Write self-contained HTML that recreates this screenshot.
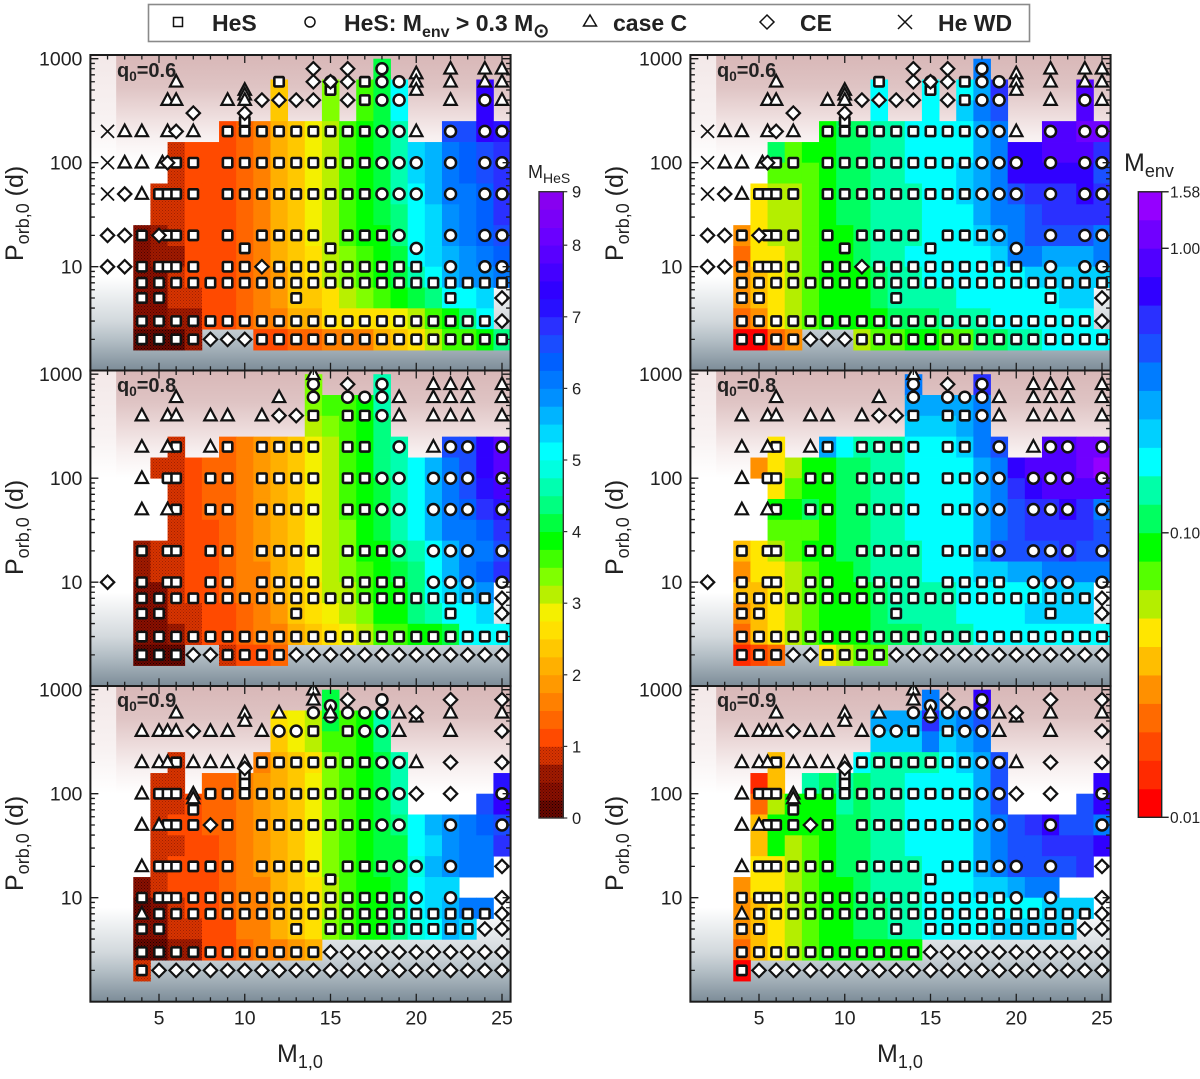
<!DOCTYPE html>
<html lang="en">
<head>
<meta charset="utf-8">
<title>HeS and Menv parameter grids</title>
<style>
html,body{margin:0;padding:0;background:#fff}
svg{display:block;font-family:"Liberation Sans",sans-serif}
.ax{font-size:25px;fill:#222}
.axs{font-size:18px}
.q{font-size:20px;font-weight:bold;fill:#222}
.qs{font-size:13.5px}
.lg{font-size:23px;font-weight:bold;fill:#222}
.lgs{font-size:16px}
.lgo{font-size:19px}
</style>
</head>
<body>
<svg id="chart" xmlns="http://www.w3.org/2000/svg" width="1200" height="1079" viewBox="0 0 1200 1079">
<defs>
<linearGradient id="pinkMain" x1="0" y1="0" x2="0" y2="1"><stop offset="0" stop-color="#d8b7b7"/><stop offset=".3" stop-color="#dfc4c4"/><stop offset=".55" stop-color="#eddcdc"/><stop offset=".75" stop-color="#f7efef"/><stop offset="1" stop-color="#ffffff"/></linearGradient>
<linearGradient id="pinkEdge" x1="0" y1="0" x2="0" y2="1"><stop offset="0" stop-color="#f3e8e8"/><stop offset=".6" stop-color="#f8f2f2"/><stop offset="1" stop-color="#ffffff"/></linearGradient>
<linearGradient id="grayFade" x1="0" y1="0" x2="0" y2="1"><stop offset="0" stop-color="#ffffff"/><stop offset=".47" stop-color="#d3d9dd"/><stop offset=".67" stop-color="#b4bfc6"/><stop offset="1" stop-color="#7c8c98"/></linearGradient>
<pattern id="dither0" width="3" height="3" patternUnits="userSpaceOnUse"><rect width="3" height="3" fill="#6a0800"/><rect width="1" height="1" fill="#1e0000"/><rect x="1.5" y="1.5" width="1" height="1" fill="#2e0000"/></pattern>
<pattern id="dither1" width="3" height="3" patternUnits="userSpaceOnUse"><rect width="3" height="3" fill="#8a1000"/><rect width="1" height="1" fill="#4a0200"/><rect x="1.5" y="1.5" width="1" height="1" fill="#520400"/></pattern>
<pattern id="dither2" width="3" height="3" patternUnits="userSpaceOnUse"><rect width="3" height="3" fill="#a01a00"/><rect width="1" height="1" fill="#6a0a00"/><rect x="1.5" y="1.5" width="1" height="1" fill="#741000"/></pattern>
<pattern id="dither3" width="3" height="3" patternUnits="userSpaceOnUse"><rect width="3" height="3" fill="#d83400"/><rect width="1" height="1" fill="#a02000"/><rect x="1.5" y="1.5" width="1" height="1" fill="#a82400"/></pattern>
</defs>
<g id="plots"></g>

<g>
<rect x="148.5" y="4.5" width="881" height="37" fill="#fff" stroke="#8a8a8a" stroke-width="1.6"/>
<rect x="173.5" y="17.5" width="9" height="9" fill="#fff" stroke="#111" stroke-width="1.5"/>
<text class="lg" x="212" y="31">HeS</text>
<circle cx="310" cy="22" r="5" fill="#fff" stroke="#111" stroke-width="1.5"/>
<text class="lg" x="344" y="31">HeS: M<tspan class="lgs" dy="6">env</tspan><tspan dy="-6"> &gt; 0.3 M</tspan><tspan class="lgo" dy="6">⊙</tspan></text>
<polygon points="590,15 596.5,26 583.5,26" fill="#fff" stroke="#111" stroke-width="1.5"/>
<text class="lg" x="613" y="31">case C</text>
<polygon points="767,15 774,22 767,29 760,22" fill="#fff" stroke="#111" stroke-width="1.5"/>
<text class="lg" x="800" y="31">CE</text>
<path d="M898,15L912,29M912,15L898,29" stroke="#111" stroke-width="1.5" fill="none"/>
<text class="lg" x="938" y="31">He WD</text>
</g>

<text class="ax" transform="translate(23,261) rotate(-90)">P<tspan class="axs" dy="6">orb,0</tspan><tspan dy="-6"> (d)</tspan></text>
<text class="ax" transform="translate(23,575) rotate(-90)">P<tspan class="axs" dy="6">orb,0</tspan><tspan dy="-6"> (d)</tspan></text>
<text class="ax" transform="translate(23,891) rotate(-90)">P<tspan class="axs" dy="6">orb,0</tspan><tspan dy="-6"> (d)</tspan></text>
<text class="ax" transform="translate(623,261) rotate(-90)">P<tspan class="axs" dy="6">orb,0</tspan><tspan dy="-6"> (d)</tspan></text>
<text class="ax" transform="translate(623,575) rotate(-90)">P<tspan class="axs" dy="6">orb,0</tspan><tspan dy="-6"> (d)</tspan></text>
<text class="ax" transform="translate(623,891) rotate(-90)">P<tspan class="axs" dy="6">orb,0</tspan><tspan dy="-6"> (d)</tspan></text>

<text class="ax" x="277" y="1062">M<tspan class="axs" dy="6">1,0</tspan></text>
<text class="ax" x="877" y="1062">M<tspan class="axs" dy="6">1,0</tspan></text>

<text class="q" x="117" y="77">q<tspan class="qs" dy="4">0</tspan><tspan dy="-4">=0.6</tspan></text>
<text class="q" x="117" y="392">q<tspan class="qs" dy="4">0</tspan><tspan dy="-4">=0.8</tspan></text>
<text class="q" x="117" y="707">q<tspan class="qs" dy="4">0</tspan><tspan dy="-4">=0.9</tspan></text>
<text class="q" x="717" y="77">q<tspan class="qs" dy="4">0</tspan><tspan dy="-4">=0.6</tspan></text>
<text class="q" x="717" y="392">q<tspan class="qs" dy="4">0</tspan><tspan dy="-4">=0.8</tspan></text>
<text class="q" x="717" y="707">q<tspan class="qs" dy="4">0</tspan><tspan dy="-4">=0.9</tspan></text>

<text x="528" y="178" font-size="18" fill="#222">M<tspan font-size="14" dy="5">HeS</tspan></text>
<text x="1124" y="171" font-size="25" fill="#222">M<tspan font-size="18" dy="6">env</tspan></text>
<g id="colorbars"></g>
</svg>

<script>
const _ = null;

const massColumns = [4,5,6,7,8,9,10,11,12,13,14,15,16,17,18,19,20,21,22,23,24,25];
const periodEdges = [1000,631,398,251,158,100,63.1,39.8,25.1,15.8,10,6.31,3.98,2.51,1.58];
const xTickLabels = [5,10,15,20,25];
const yTickLabels = [10,100,1000];
const hesTickLabels = [0,1,2,3,4,5,6,7,8,9];
const envTickLabels = ["0.01","0.10","1.00","1.58"];

const hesLevels = [0,.25,.5,.75,1,1.25,1.5,1.75,2,2.25,2.5,2.75,3,3.25,3.5,3.75,4,4.25,4.5,4.75,5,5.25,5.5,5.75,6,6.25,6.5,6.75,7,7.25,7.5,7.75,8,8.33,8.67,9];
const hesColors = ["url(#dither0)","url(#dither1)","url(#dither2)","url(#dither3)","#ff4a00","#ff6600","#ff8000","#ff9900","#ffb000","#ffc800","#ffe000","#f4f000","#b8f000","#80ff00","#40ff00","#00ff00","#00ff40","#00ff80","#00ffb0","#00ffe0","#00ffff","#00d8ff","#00b4ff","#0090ff","#0078ff","#0060ff","#1a4cff","#2a30ff","#2810ff","#3000ff","#4400ff","#5800ff","#6a00ff","#7a00f8","#8800f0","#9900ff"];
const envColors = ["#ff0000","#ff2a00","#ff4800","#ff6a00","#ff9000","#ffbe00","#ffe600","#b4ee00","#55ff00","#00ff00","#00ff60","#00ffa8","#00ffff","#00d0ff","#00a8ff","#007cff","#1a50ff","#2a30ff","#3000ff","#5000ff","#7000ff","#9500ff"];

const hesQ06 = [
[_,_,_,_,_,_,_,_,_,_,_,_,_,_,4.1,_,_,_,_,_,_,_],
[_,_,_,_,_,_,_,_,2.35,_,_,3.4,_,3.6,4.1,5.1,_,_,_,_,7.3,_],
[_,_,_,_,_,_,_,_,2.3,_,_,3.4,_,3.7,4.1,5.1,_,_,_,_,7.3,_],
[_,_,_,_,_,1.2,1.3,1.6,2.1,2.4,2.85,3.2,3.5,3.8,4.1,4.7,_,_,6.6,6.6,7.3,7.0],
[_,_,.9,1.1,1.2,1.2,1.3,1.6,2.1,2.4,2.85,3.2,3.5,3.8,4.1,4.7,5.3,5.6,6.1,6.3,6.6,6.9],
[_,_,.9,1.1,1.15,1.2,1.3,1.6,2.1,2.4,2.8,3.2,3.5,3.8,4.1,4.7,5.3,5.6,6.0,6.3,6.6,6.9],
[_,.9,.9,1.1,1.15,1.2,1.3,1.6,2.1,2.4,2.8,3.2,3.5,3.8,4.1,4.6,5.1,5.5,6.0,6.2,6.4,6.9],
[_,.9,.9,1.1,1.15,1.2,1.3,1.6,2.1,2.4,2.8,3.2,3.5,3.8,4.0,4.4,5.1,5.3,5.8,6.1,6.4,6.8],
[.4,.7,.9,1.1,1.15,1.2,1.3,1.6,2.1,2.4,2.8,3.2,3.5,3.8,3.9,4.3,5.0,5.3,5.8,6.0,6.3,6.6],
[.4,.55,.7,1.1,1.15,1.2,1.3,1.6,2.1,2.4,2.7,3.1,3.4,3.7,3.9,4.1,5.0,5.3,5.7,5.9,6.2,6.4],
[.3,.3,.8,1.1,1.15,1.2,1.4,1.6,1.9,2.4,2.6,3.0,3.3,3.6,3.9,4.1,4.6,5.1,5.6,5.8,5.9,6.1],
[.3,.3,.8,.9,1.1,1.2,1.4,1.6,1.9,2.4,2.3,2.6,3.1,3.3,3.6,3.8,4.1,4.3,5.1,5.1,5.4,_],
[.3,.3,.6,.7,1.1,1.2,1.3,1.5,1.7,2.0,2.2,2.5,2.6,2.6,2.6,2.9,3.2,3.6,3.8,4.3,5.1,_],
[.2,.2,.2,.5,_,_,_,1.2,1.2,1.3,1.3,1.5,1.6,1.7,2.0,2.4,2.7,3.2,3.5,3.6,3.8,4.4]
];
const hesQ08 = [
[_,_,_,_,_,_,_,_,_,_,3.3,_,_,_,4.6,_,_,_,_,_,_,_],
[_,_,_,_,_,_,_,_,_,_,3.3,3.6,3.6,3.8,4.6,_,_,_,_,_,_,_],
[_,_,_,_,_,_,_,_,_,_,3.1,3.4,3.5,3.9,4.4,_,_,_,_,_,_,_],
[_,_,.9,_,_,1.4,1.6,1.8,2.0,2.4,2.8,3.1,3.5,3.9,4.3,4.6,_,_,6.6,6.7,7.4,7.9],
[_,.9,.9,1.15,1.25,1.4,1.6,1.8,2.1,2.4,2.8,3.1,3.5,3.9,4.3,4.6,5.1,5.7,6.2,6.7,7.3,7.9],
[_,_,.9,1.1,1.25,1.35,1.5,1.8,2.1,2.4,2.8,3.1,3.5,3.9,4.2,4.6,5.1,5.6,6.2,6.6,7.1,7.5],
[_,_,.9,1.1,1.25,1.35,1.5,1.8,2.1,2.4,2.8,3.1,3.5,3.9,4.1,4.6,5.1,5.6,6.1,6.4,6.8,7.0],
[_,_,.9,1.1,1.2,1.3,1.5,1.8,2.1,2.4,2.8,3.1,3.4,3.8,4.0,4.5,5.2,5.6,6.0,6.2,6.4,6.8],
[.5,.8,.8,1.1,1.2,1.3,1.5,1.8,2.1,2.4,2.8,3.1,3.4,3.8,3.9,4.3,4.6,5.1,5.6,6.0,6.2,6.7],
[.5,.8,.8,1.1,1.2,1.3,1.5,1.7,2.0,2.4,2.8,3.1,3.3,3.7,3.9,4.1,4.3,5.0,5.6,6.0,6.3,6.8],
[.3,.3,.8,1.1,1.2,1.4,1.5,1.7,2.0,2.3,2.6,3.0,3.2,3.6,3.8,3.9,4.4,5.0,5.4,5.5,5.9,_],
[.3,.3,.8,.8,1.1,1.2,1.4,1.6,1.9,2.4,2.6,2.8,3.2,3.3,3.8,3.9,4.3,4.5,5.1,5.2,5.3,_],
[.3,.3,.6,.9,1.1,1.2,1.3,1.5,1.7,2.0,2.3,2.6,2.8,3.2,3.5,3.7,3.8,3.9,4.0,5.1,5.1,5.1],
[.2,.2,.2,_,_,.8,1.1,1.2,1.25,_,_,_,_,_,_,_,_,_,_,_,_,_]
];
const hesQ09 = [
[_,_,_,_,_,_,_,_,_,_,_,4.0,_,_,_,_,_,_,_,_,_,_],
[_,_,_,_,_,_,_,_,2.5,2.8,3.2,4.0,3.6,3.8,4.5,_,_,_,_,_,_,_],
[_,_,_,_,_,_,_,_,2.3,2.8,3.1,3.7,3.5,3.8,4.4,_,_,_,_,_,_,_],
[_,_,.9,_,_,_,_,1.7,2.0,2.3,2.7,3.3,3.5,3.8,4.0,4.6,_,_,_,_,_,_],
[_,.9,.9,_,1.3,1.4,1.5,1.75,2.0,2.4,2.8,3.3,3.5,3.8,4.1,4.6,_,_,_,_,_,7.1],
[_,.9,.9,1.1,1.3,1.4,1.5,1.75,2.0,2.4,2.8,3.3,3.5,3.8,4.1,4.6,_,_,_,_,6.7,7.3],
[_,.9,1.1,1.2,1.3,1.35,1.5,1.75,2.0,2.4,2.8,3.3,3.5,3.8,4.1,4.4,5.2,5.5,5.9,6.2,6.3,6.7],
[_,.9,.9,1.1,1.2,1.3,1.5,1.75,2.0,2.4,2.8,3.3,3.5,3.8,4.0,4.2,5.1,5.4,5.9,6.1,6.2,6.9],
[_,.9,1.0,1.1,1.2,1.3,1.5,1.75,2.0,2.4,2.8,3.3,3.5,3.8,4.0,4.1,4.9,5.6,5.8,6.0,6.1,_],
[.4,.9,1.1,1.1,1.2,1.3,1.5,1.7,2.0,2.4,2.7,3.2,3.5,3.8,3.9,4.0,5.0,5.4,5.4,_,_,_],
[.2,.3,.9,1.1,1.2,1.3,1.5,1.7,2.0,2.4,2.7,3.2,3.5,3.8,3.9,4.0,5.0,5.3,5.6,6.0,6.1,_],
[.3,.3,.85,.85,1.1,1.2,1.5,1.7,2.0,2.4,2.6,3.3,3.5,3.8,3.9,4.3,4.8,5.0,5.5,5.4,_,_],
[.2,.2,.6,.6,1.1,1.2,1.3,1.5,1.6,1.8,2.0,_,_,_,_,_,_,_,_,_,_,_],
[.8,_,_,_,_,_,_,_,_,_,_,_,_,_,_,_,_,_,_,_,_,_]
];

const envQ06 = [
[_,_,_,_,_,_,_,_,_,_,_,_,_,_,.35,_,_,_,_,_,_,_],
[_,_,_,_,_,_,_,_,.18,_,_,.18,_,.18,.3,.56,_,_,_,_,.89,_],
[_,_,_,_,_,_,_,_,.18,_,_,.18,_,.22,.35,.45,_,_,_,_,.89,_],
[_,_,_,_,_,.089,.11,.11,.14,.14,.18,.18,.18,.18,.28,.35,_,_,.89,.89,1.1,1.0],
[_,_,.11,.071,.089,.089,.11,.11,.14,.14,.18,.18,.18,.18,.28,.35,.71,.71,.89,.89,.89,.56],
[_,_,.071,.071,.071,.089,.11,.11,.14,.14,.18,.18,.18,.22,.28,.35,.71,.71,.71,.71,.71,.45],
[_,.045,.056,.056,.071,.089,.11,.11,.14,.14,.14,.18,.18,.22,.28,.35,.45,.56,.56,.56,.71,.56],
[_,.045,.056,.056,.071,.089,.11,.11,.14,.14,.14,.18,.18,.18,.28,.35,.35,.45,.56,.56,.56,.56],
[.028,.045,.056,.056,.071,.089,.089,.11,.14,.14,.14,.18,.18,.18,.22,.28,.35,.45,.45,.45,.45,.35],
[.022,.045,.045,.056,.071,.089,.089,.11,.14,.14,.18,.18,.18,.18,.18,.22,.35,.35,.28,.28,.28,.35],
[.028,.035,.045,.056,.071,.089,.089,.089,.11,.14,.14,.18,.18,.18,.18,.18,.18,.22,.22,.22,.22,.22],
[.028,.035,.045,.056,.071,.089,.089,.089,.11,.14,.14,.14,.14,.18,.18,.18,.18,.18,.18,.22,.22,_],
[.022,.028,.045,.056,.071,.089,.089,.089,.089,.11,.11,.11,.14,.14,.14,.18,.18,.18,.18,.18,.18,_],
[.011,.011,.022,.028,_,_,_,.056,.071,.071,.089,.089,.071,.071,.11,.11,.14,.14,.18,.18,.18,.18]
];
const envQ08 = [
[_,_,_,_,_,_,_,_,_,_,.35,_,_,_,.56,_,_,_,_,_,_,_],
[_,_,_,_,_,_,_,_,_,_,.28,.28,.28,.28,.35,_,_,_,_,_,_,_],
[_,_,_,_,_,_,_,_,_,_,.22,.22,.22,.28,.35,_,_,_,_,_,_,_],
[_,_,.045,_,_,.28,.18,.14,.14,.14,.18,.18,.18,.22,.35,.45,_,_,.89,.89,1.1,1.1],
[_,.028,.045,.056,.089,.089,.11,.11,.14,.14,.18,.18,.18,.18,.28,.35,.71,.89,.89,.89,1.1,1.4],
[_,_,.045,.071,.089,.089,.11,.11,.14,.14,.18,.18,.18,.18,.28,.35,.56,.71,.89,.89,.89,.89],
[_,_,.089,.089,.11,.089,.11,.11,.14,.14,.18,.18,.18,.18,.28,.35,.45,.56,.56,.71,.56,.35],
[_,_,.071,.071,.071,.089,.11,.11,.14,.14,.18,.18,.18,.18,.28,.35,.45,.56,.56,.56,.56,.45],
[.035,.045,.056,.071,.089,.089,.11,.11,.14,.14,.14,.18,.18,.18,.28,.45,.45,.45,.45,.56,.45,.45],
[.028,.045,.045,.056,.071,.089,.089,.11,.14,.14,.14,.18,.18,.18,.22,.22,.28,.28,.35,.35,.35,.35],
[.035,.035,.045,.056,.071,.089,.089,.089,.11,.14,.14,.14,.14,.18,.18,.18,.18,.18,.22,.22,.22,_],
[.028,.035,.045,.056,.071,.089,.089,.089,.11,.14,.14,.14,.14,.18,.18,.18,.18,.22,.22,.22,.22,_],
[.022,.035,.045,.056,.071,.089,.089,.089,.11,.11,.11,.14,.14,.14,.18,.18,.18,.18,.18,.18,.18,.18],
[.014,.018,.022,_,_,.045,.056,.071,.071,_,_,_,_,_,_,_,_,_,_,_,_,_]
];
const envQ09 = [
[_,_,_,_,_,_,_,_,_,_,_,.35,_,_,.71,_,_,_,_,_,_,_],
[_,_,_,_,_,_,_,_,.28,.28,.28,.56,.28,.35,.45,_,_,_,_,_,_,_],
[_,_,_,_,_,_,_,_,.22,.22,.22,.35,.22,.28,.35,_,_,_,_,_,_,_],
[_,_,.035,_,_,_,_,.18,.14,.14,.14,.14,.18,.22,.28,.45,_,_,_,_,_,_],
[_,.014,.035,_,.14,.11,.14,.11,.14,.14,.18,.18,.18,.18,.28,.45,_,_,_,_,_,.71],
[_,.022,.056,.089,.089,.089,.14,.11,.14,.14,.18,.18,.18,.18,.28,.45,_,_,_,_,.45,.71],
[_,.035,.089,.089,.089,.089,.11,.11,.14,.14,.18,.18,.18,.18,.28,.35,.45,.56,.71,.45,.45,.35],
[_,.035,.089,.056,.071,.089,.11,.11,.14,.14,.18,.18,.18,.18,.28,.35,.45,.45,.56,.56,.56,.71],
[_,.045,.045,.056,.071,.089,.11,.11,.14,.14,.14,.18,.18,.18,.28,.35,.45,.45,.45,.45,.56,_],
[.028,.045,.045,.056,.071,.089,.089,.11,.14,.14,.14,.18,.18,.18,.22,.22,.28,.35,.35,_,_,_],
[.028,.035,.045,.056,.071,.089,.089,.11,.11,.14,.14,.18,.18,.18,.18,.18,.18,.18,.22,.22,.22,_],
[.028,.035,.045,.056,.071,.089,.089,.11,.11,.14,.14,.18,.18,.18,.18,.22,.22,.22,.22,.22,_,_],
[.022,.035,.045,.056,.071,.089,.089,.089,.089,.089,.089,_,_,_,_,_,_,_,_,_,_,_],
[.011,_,_,_,_,_,_,_,_,_,_,_,_,_,_,_,_,_,_,_,_,_]
];

const markersQ06 = [
{p:800,D:[14,16],O:[18],T:[22,24,25]},
{p:720,T:[20]},
{p:600,S:[12,17],O:[15,18,19],T:[6,20,22,24,25],D:[14,15,16]},
{p:500,S:[15],T:[10,20]},
{p:450,T:[10]},
{p:400,S:[17],O:[18,19,24],T:[5.5,6,9,10,22,25],D:[11,12,13,14,16]},
{p:300,D:[7,10]},
{p:250,S:[10]},
{p:200,X:[2],S:[9,10,11,12,13,14,15,16,17],O:[18,19,22,24,25],T:[3,4,5.5,7,20],D:[6]},
{p:100,X:[2],S:[6,7,9,10,11,12,13,14,15,16,17],O:[18,19,20,22,24,25],T:[3,4,5.2],D:[5.5]},
{p:50,X:[2],S:[5,5.5,6,7,9,10,11,12,13,14,15,16,17],O:[18,19,20,22,24,25],T:[4],D:[3]},
{p:20,S:[4,5.5,6,7,9,11,12,13,14,16,17,18],O:[19,22,24,25],D:[2,3,5]},
{p:15,S:[10,15],O:[20]},
{p:10,S:[4,5,5.5,6,7,9,10,12,13,14,15,16,17,18,19,20],O:[22,24,25],D:[2,3,11]},
{p:7,S:[4,5,6,7,8,9,10,11,12,13,14,15,16,17,18,19,20,21,22,23,24,25]},
{p:5,S:[4,5,13,22],D:[25]},
{p:3,S:[4,5,6,7,8,9,10,11,12,13,14,15,16,17,18,19,20,21,22,23,24],D:[25]},
{p:2,S:[4,5,6,7,11,12,13,14,15,16,17,18,19,20,21,22,23,24,25],D:[8,9,10]}
];
const markersQ08 = [
{p:1000,T:[14]},
{p:800,O:[14,18],T:[21,22,23,25],D:[16]},
{p:600,O:[14,16,17,18],T:[6,12,19,21,22,23,25]},
{p:400,S:[14,16,17],O:[18],T:[4,5.5,6,8,9,11,19,21,22,23,25],D:[12,13]},
{p:200,S:[6,9,11,12,13,14,16,17],O:[19,22,23,25],T:[4,5.5,8,21]},
{p:100,S:[5.5,6,8,9,11,12,13,14,16,17],O:[18,19,21,22,23,25],T:[4]},
{p:50,S:[6,8,9,11,12,13,14,16,17],O:[18,19,21,22,23,25],T:[4,5.5]},
{p:20,S:[4,5.5,6,8,9,11,12,13,14,16,17,18],O:[19,21,22,23,25]},
{p:10,S:[4,5.5,6,8,9,11,12,13,14,16,17,18,19],O:[21,22,23,25],D:[2]},
{p:7,S:[4,5,6,7,8,9,10,11,12,13,14,15,16,17,18,19,20,21,22,23,24],D:[25]},
{p:5,S:[4,5,13,22],D:[25]},
{p:3,S:[4,5,6,7,8,9,10,11,12,13,14,15,16,17,18,19,20,21,22,23,24,25]},
{p:2,S:[4,5,6,9,10,11,12],D:[7,8,13,14,15,16,17,18,19,20,21,22,23,24,25]}
];
const markersQ09 = [
{p:1000,T:[14]},
{p:800,O:[18],T:[14],D:[16,22,25]},
{p:700,O:[15]},
{p:600,O:[14,16,17,18],T:[6,10,12,15,19,22,25],D:[20]},
{p:550,O:[15],T:[20]},
{p:500,T:[10]},
{p:400,S:[14,16],O:[12,13,17,18],T:[4,5,5.5,6,8,9,11,19,22],D:[7,25]},
{p:200,S:[6,11,12,13,14,15,16,17],O:[18,19],T:[4,5,5.5,7,8,9,10,20],D:[22,25]},
{p:175,D:[10]},
{p:150,S:[10]},
{p:125,S:[10]},
{p:100,S:[5,5.5,6,8,9,10,11,12,13,14,15,16,17],O:[18,19,25],T:[4,7],D:[20,22]},
{p:90,T:[7]},
{p:70,S:[7]},
{p:50,S:[5.5,6,7,9,11,12,13,14,15,16,17],O:[18,19,22,25],T:[4,5],D:[8]},
{p:20,S:[5,5.5,6,7,8,9,11,12,13,14,16,17,18],O:[19,20,22],T:[4],D:[25]},
{p:15,S:[15]},
{p:10,S:[4,5,5.5,6,7,8,9,10,11,12,13,14,15,16,17,18,19],O:[20,22],D:[25]},
{p:7,S:[5,6,7,8,9,10,11,12,13,14,15,16,17,18,19,20,21,22,23,24],T:[4],D:[25]},
{p:5,S:[4,5,13,15,16,17,18,19,20,21,22,23],D:[24,25]},
{p:3,S:[4,5,6,7,8,9,10,11,12,13,14],D:[15,16,17,18,19,20,21,22,23,24,25]},
{p:2,S:[4],D:[5,6,7,8,9,10,11,12,13,14,15,16,17,18,19,20,21,22,23,24,25]}
];

const NS = "http://www.w3.org/2000/svg";
const PANEL_TOPS = [55,370.5,686];
const PANEL_H = 315.7;
const INK = "#1c1c1c";

function make(tag, attrs, parent){
  const el = document.createElementNS(NS, tag);
  for (const k in attrs) el.setAttribute(k, attrs[k]);
  parent.appendChild(el);
  return el;
}
function xScale(ox, m){ return ox + 159 + (m - 5) * 17.15; }
function yScale(top, p){ return top + 3.7 + (3 - Math.log10(p)) * 104; }

function hesColor(v){
  for (let i = 0; i < hesColors.length; i++) if (v < hesLevels[i + 1]) return hesColors[i];
  return hesColors[hesColors.length - 1];
}
function envColor(v){
  const k = Math.floor(Math.log10(v / 0.01) * 10);
  return envColors[Math.max(0, Math.min(envColors.length - 1, k))];
}

function drawMarker(g, kind, cx, cy){
  let el;
  if (kind === "S") {
    el = make("rect", {x:cx-4.7, y:cy-4.7, width:9.4, height:9.4, rx:1, fill:"#fff", stroke:"#111", "stroke-width":2.6}, g);
    
  } else if (kind === "O") {
    el = make("circle", {cx:cx, cy:cy, r:5.5, fill:"#fff", stroke:"#111", "stroke-width":2.5}, g);
    
  } else if (kind === "T") {
    el = make("polygon", {points:(cx)+","+(cy-6.8)+" "+(cx+6.2)+","+(cy+4.8)+" "+(cx-6.2)+","+(cy+4.8), fill:"#fff", stroke:"#111", "stroke-width":2.2}, g);
    
  } else if (kind === "D") {
    el = make("polygon", {points:(cx)+","+(cy-6.7)+" "+(cx+6.7)+","+(cy)+" "+(cx)+","+(cy+6.7)+" "+(cx-6.7)+","+(cy), fill:"#fff", stroke:"#111", "stroke-width":2.2}, g);
    
  } else {
    el = make("path", {d:"M"+(cx-6.5)+","+(cy-6.5)+"L"+(cx+6.5)+","+(cy+6.5)+"M"+(cx+6.5)+","+(cy-6.5)+"L"+(cx-6.5)+","+(cy+6.5), fill:"none", stroke:"#111", "stroke-width":1.7}, g);
    
  }
  
}

function drawPanel(root, ox, top, rows, colorOf, markers, id, showX){
  const left = xScale(ox, 1), right = xScale(ox, 25.5), bottom = top + PANEL_H;
  const g = make("g", {}, root);
  
  

  const clip = make("clipPath", {id:"clip-" + id}, g);
  make("rect", {x:left, y:top, width:right-left, height:PANEL_H}, clip);

  const plot = make("g", {"clip-path":"url(#clip-" + id + ")"}, g);
  
  

  const pinkBottom = yScale(top, 100);
  const grayTop = yScale(top, 8);
  const edge = xScale(ox, 2.5);
  const b1 = make("rect", {x:left, y:top, width:edge-left, height:pinkBottom-top, fill:"url(#pinkEdge)"}, plot);
  
  
  const b2 = make("rect", {x:edge, y:top, width:right-edge, height:pinkBottom-top, fill:"url(#pinkMain)"}, plot);
  
  
  const b3 = make("rect", {x:left, y:grayTop, width:right-left, height:bottom-grayTop, fill:"url(#grayFade)"}, plot);
  
  

  rows.forEach(function(row, r){
    const y0 = yScale(top, periodEdges[r]), y1 = yScale(top, periodEdges[r + 1]);
    row.forEach(function(v, c){
      if (v === null) return;
      const m = massColumns[c];
      const x0 = xScale(ox, m - .5), x1 = xScale(ox, m + .5);
      const cell = make("rect", {x:x0, y:y0, width:x1-x0+.4, height:y1-y0+.4, fill:colorOf(v)}, plot);
      
      
    });
  });

  ["X","S","O","T","D"].forEach(function(kind){
    markers.forEach(function(entry){
      (entry[kind] || []).forEach(function(m){
        drawMarker(plot, kind, xScale(ox, m), yScale(top, entry.p));
      });
    });
  });

  const ticks = make("g", {stroke:INK, fill:"none"}, g);
  
  
  for (let m = 2; m <= 25; m++) {
    const major = xTickLabels.indexOf(m) >= 0;
    const len = major ? 8 : 4.5;
    const x = xScale(ox, m);
    make("path", {d:"M"+x+","+bottom+"v"+(-len)+"M"+x+","+top+"v"+len, "stroke-width":1.3}, ticks);
  }
  for (let dec = 0; dec < 3; dec++) {
    for (let k = 1; k <= 9; k++) {
      const p = k * Math.pow(10, dec);
      const major = yTickLabels.indexOf(p) >= 0;
      const len = major ? 8 : 4.5;
      const y = yScale(top, p);
      make("path", {d:"M"+left+","+y+"h"+len+"M"+right+","+y+"h"+(-len), "stroke-width":1.3}, ticks);
    }
  }
  make("path", {d:"M"+left+","+yScale(top,1000)+"h8M"+right+","+yScale(top,1000)+"h-8", "stroke-width":1.3}, ticks);

  const frame = make("rect", {x:left, y:top, width:right-left, height:PANEL_H, fill:"none", stroke:INK, "stroke-width":2}, g);
  
  

  yTickLabels.forEach(function(v){
    const t = make("text", {x:left-8, y:yScale(top, v)+7, "text-anchor":"end", "font-size":19.5, fill:"#222"}, g);
    
    
    t.textContent = v;
  });
  if (showX) {
    xTickLabels.forEach(function(v){
      const t = make("text", {x:xScale(ox, v), y:bottom+23, "text-anchor":"middle", "font-size":19.5, fill:"#222"}, g);
      
      
      t.textContent = v;
    });
  }
}

function hesBarY(v){ return v <= 8 ? 818 - 71.6 * v : 245.2 - 53.5 * (v - 8); }
function envBarY(v){ return 817.3 - 284.5 * Math.log10(v / 0.01); }

function drawColorbars(root){
  const hes = make("g", {}, root);
  
  
  hesColors.forEach(function(col, i){
    const y1 = hesBarY(hesLevels[i]), y0 = hesBarY(hesLevels[i + 1]);
    const b = make("rect", {x:539, y:y0, width:24.3, height:y1-y0+.4, fill:col}, hes);
    
    
  });
  const f1 = make("rect", {x:539, y:hesBarY(9), width:24.3, height:hesBarY(0)-hesBarY(9), fill:"none", stroke:"#333", "stroke-width":1.4}, hes);
  
  
  hesTickLabels.forEach(function(v){
    make("path", {d:"M563.3,"+hesBarY(v)+"h4", stroke:"#333", "stroke-width":1.2}, hes);
    const t = make("text", {x:572, y:hesBarY(v)+6, "font-size":16.5, fill:"#222"}, hes);
    
    
    t.textContent = v;
  });

  const env = make("g", {}, root);
  
  
  envColors.forEach(function(col, i){
    const y1 = envBarY(0.01 * Math.pow(10, i / 10)), y0 = envBarY(0.01 * Math.pow(10, (i + 1) / 10));
    const b = make("rect", {x:1138.3, y:y0, width:23.4, height:y1-y0+.4, fill:col}, env);
    
    
  });
  const f2 = make("rect", {x:1138.3, y:envBarY(1.58), width:23.4, height:envBarY(0.01)-envBarY(1.58), fill:"none", stroke:"#222", "stroke-width":1.4}, env);
  
  
  envTickLabels.forEach(function(s){
    const v = parseFloat(s);
    make("path", {d:"M1161.7,"+envBarY(v)+"h7", stroke:"#222", "stroke-width":1.4}, env);
    const t = make("text", {x:1170, y:envBarY(v)+5.5, "font-size":15.5, fill:"#222"}, env);
    
    
    t.textContent = s;
  });
}

const plots = document.getElementById("plots");
drawPanel(plots, 0, PANEL_TOPS[0], hesQ06, hesColor, markersQ06, "hes-q06", false);
drawPanel(plots, 0, PANEL_TOPS[1], hesQ08, hesColor, markersQ08, "hes-q08", false);
drawPanel(plots, 0, PANEL_TOPS[2], hesQ09, hesColor, markersQ09, "hes-q09", true);
drawPanel(plots, 600, PANEL_TOPS[0], envQ06, envColor, markersQ06, "env-q06", false);
drawPanel(plots, 600, PANEL_TOPS[1], envQ08, envColor, markersQ08, "env-q08", false);
drawPanel(plots, 600, PANEL_TOPS[2], envQ09, envColor, markersQ09, "env-q09", true);
drawColorbars(document.getElementById("colorbars"));
</script>
</body>
</html>
